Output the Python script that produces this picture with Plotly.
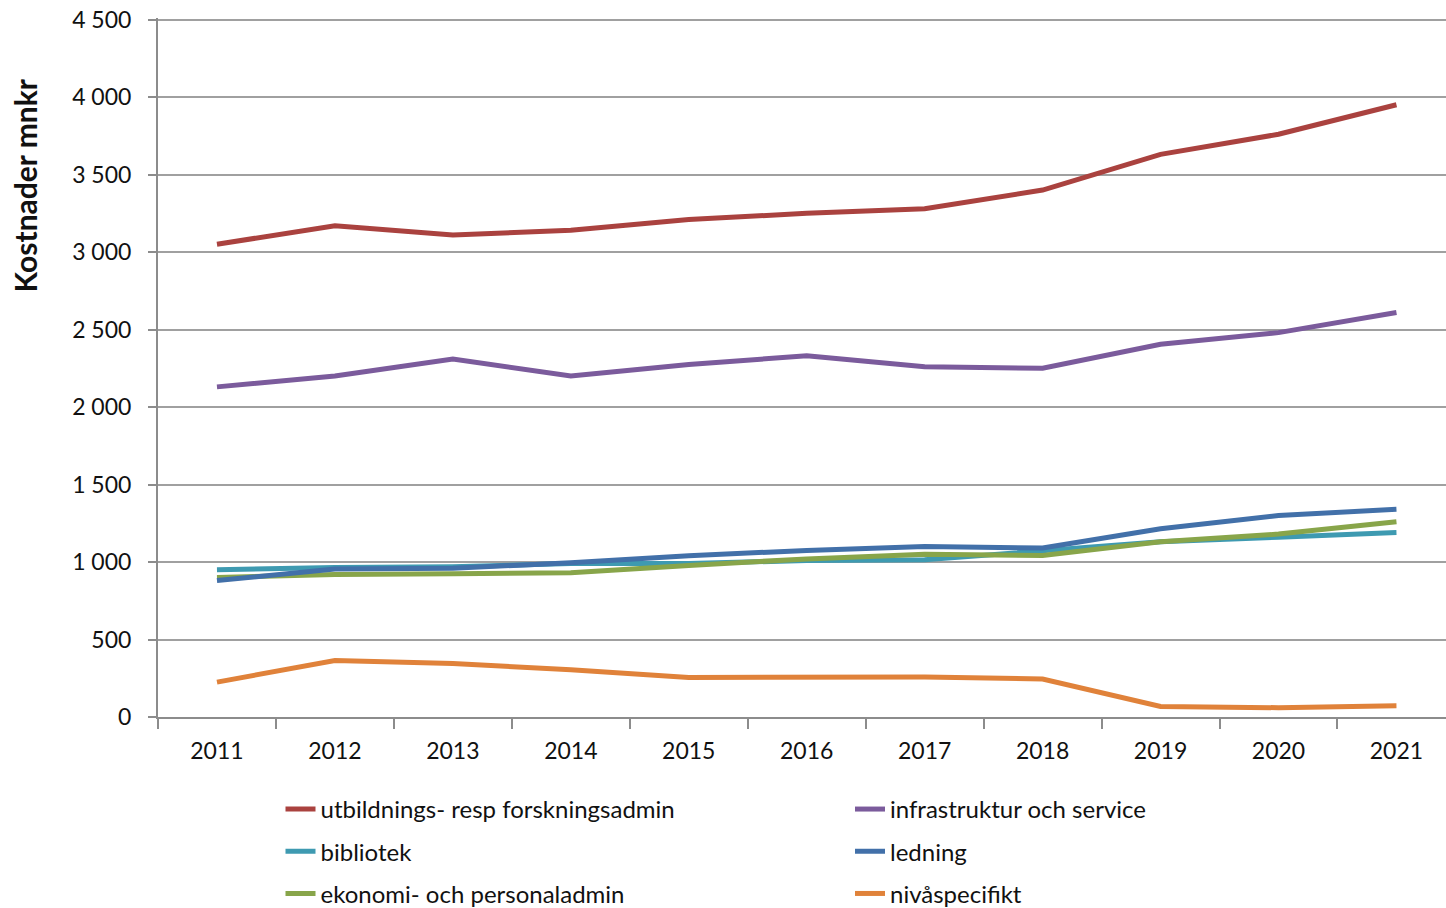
import plotly.graph_objects as go

years = ["2011", "2012", "2013", "2014", "2015", "2016", "2017", "2018", "2019", "2020", "2021"]

utbildning = [3050, 3170, 3110, 3140, 3210, 3250, 3280, 3400, 3630, 3760, 3950]
infrastruktur = [2130, 2200, 2310, 2200, 2275, 2330, 2260, 2250, 2405, 2480, 2610]
bibliotek = [950, 965, 970, 990, 990, 1010, 1015, 1070, 1130, 1160, 1190]
ledning = [880, 955, 960, 995, 1040, 1075, 1100, 1090, 1215, 1300, 1340]
ekonomi = [900, 920, 925, 930, 978, 1020, 1050, 1042, 1130, 1180, 1260]
nivaspecifikt = [225, 365, 345, 305, 255, 260, 258, 245, 68, 60, 72]

names = ["utbildnings- resp forskningsadmin", "infrastruktur och service", "bibliotek",
         "ledning", "ekonomi- och personaladmin", "nivåspecifikt"]
colors = ["#AA423F", "#7B5B9C", "#3E9AB1", "#4270A9", "#88A54A", "#E0823A"]
legends = ["legend", "legend2", "legend", "legend2", "legend", "legend2"]
series = [utbildning, infrastruktur, bibliotek, ledning, ekonomi, nivaspecifikt]

font_family = "Lato, 'Open Sans', sans-serif"

fig = go.Figure()
draw_order = [0, 1, 2, 4, 3, 5]
for i in draw_order:
    fig.add_trace(go.Scatter(
        x=years, y=series[i], name=names[i], mode="lines",
        line=dict(color=colors[i], width=5),
        legend=legends[i], legendgroup=names[i], legendrank=i + 1,
    ))

# page body margin is removed below, so figure pixels == window pixels
L, T, PH, PW = 158, 17.5, 699.5, 1288
Y_TOP = 4510

legend_common = dict(
    orientation="v", yanchor="top", y=-(787 - T - PH) / PH, xanchor="left",
    font=dict(size=24, color="#111111", family=font_family),
    traceorder="grouped", tracegroupgap=8, bgcolor="rgba(0,0,0,0)",
    itemwidth=30,
)

fig.update_layout(
    width=1446, height=908,
    margin=dict(l=L, r=0, t=T, b=908 - T - PH, autoexpand=False),
    plot_bgcolor="white", paper_bgcolor="white",
    separators=", ",
    font=dict(family=font_family, size=23, color="#111111"),
    legend=dict(x=(280.5 - L) / PW, **legend_common),
    legend2=dict(x=(850 - L) / PW, **legend_common),
    xaxis=dict(
        type="category", range=[-0.5, 10.42], automargin=False,
        tickson="boundaries", ticks="outside", ticklen=10, tickwidth=2,
        tickcolor="#8C8C8C", showline=True, linecolor="#8C8C8C", linewidth=2,
        showgrid=False, tickfont=dict(size=23, color="#111111"),
        ticklabelstandoff=12,
    ),
    yaxis=dict(
        range=[0, Y_TOP], tickvals=[0, 500, 1000, 1500, 2000, 2500, 3000, 3500, 4000, 4500],
        tickformat=",d", automargin=False, ticklabeloverflow="allow",
        ticks="outside", ticklen=8, tickwidth=2, tickcolor="#8C8C8C",
        showline=True, linecolor="#8C8C8C", linewidth=2,
        showgrid=True, gridcolor="#A0A0A0", gridwidth=2,
        zeroline=False, tickfont=dict(size=23, color="#111111"),
        ticklabelstandoff=12,
    ),
    annotations=[dict(
        text="<b>Kostnader mnkr</b>", textangle=-90,
        xref="paper", yref="paper",
        x=(25 - L) / PW, y=(T + PH - 185) / PH,
        xanchor="center", yanchor="middle", showarrow=False,
        font=dict(size=30, color="#111111", family=font_family),
    )],
)

fig.write_html("out.html", config={"displayModeBar": False},
               post_script="document.body.style.margin='0px';")
